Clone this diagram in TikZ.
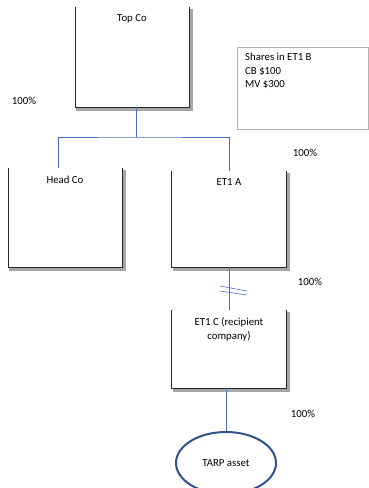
\documentclass[tikz,border=0pt]{standalone}
\usepackage{fontspec}
\setmainfont{Carlito}
\usetikzlibrary{shapes.geometric}
\definecolor{connblue}{RGB}{68,114,196}
\definecolor{ellblue}{RGB}{47,82,143}
\newcommand\cupdraw[2]{%
  \draw[line width=3pt, gray!70] ([shift={(2pt,-2pt)}]#1.north east) -- ([shift={(2pt,-2pt)}]#1.south east) -- ([shift={(1pt,-2pt)}]#1.south west);
  \draw[line width=#2, black!85] (#1.north west) -- (#1.south west) -- (#1.south east) -- (#1.north east);
}
\begin{document}
\begin{tikzpicture}[x=1pt,y=-1pt,
  every node/.style={font=\fontsize{10.8}{14}\selectfont},
  cupbox/.style={minimum width=114pt, minimum height=#1, inner sep=0pt},
  boxlabel/.style={anchor=north, yshift=-4.5pt, align=center},
  conn/.style={draw=connblue, line width=0.8pt},
  pct/.style={inner sep=0pt}]
\useasboundingbox (0,0) rectangle (369,488);
% boxes
\node[cupbox=100pt, label={[boxlabel]north:Top Co}] (topco) at (132,57) {};
\node[cupbox=99pt, label={[boxlabel]north:Head Co}] (head) at (65,217.5) {};
\node[cupbox=96pt, label={[boxlabel]north:ET1 A}] (et1a) at (229,219) {};
\node[cupbox=78pt, label={[boxlabel]north:ET1 C (recipient\\company)}] (et1c) at (229,349) {};
\cupdraw{topco}{0.6pt}
\cupdraw{head}{0.6pt}
\cupdraw{et1a}{0.9pt}
\cupdraw{et1c}{0.9pt}
% shares box
\node[draw=gray!60, line width=0.5pt, minimum width=131pt, minimum height=82pt] (shares) at (302.5,88) {};
\node[anchor=north west, align=left, inner sep=0pt, font=\fontsize{10.8}{13.5}\selectfont] (sharestext) at (245,53) {Shares in ET1 B\\CB \$100\\MV \$300};
% ellipse
\node[draw=ellblue, line width=2pt, ellipse, minimum width=100pt, minimum height=62pt, inner sep=0pt] (tarp) at (226,463) {};
\node (tarptext) at (226,463) {TARP asset};
% percentages
\node[pct] (p1) at (24,101) {100\%};
\node[pct] (p2) at (305,153) {100\%};
\node[pct] (p3) at (310,282) {100\%};
\node[pct] (p4) at (303,414) {100\%};
% connectors
\coordinate (jn) at (136,137);
\coordinate (hl) at (58,137);
\draw[conn] ([xshift=4pt]topco.south) -- (jn);
\draw[conn] (hl |- head.north) -- (hl) -- (jn) -| (et1a.north);
\draw[conn] (et1a.south) -- (et1c.north);
\draw[conn, line width=0.6pt] (220,286) -- (247,291);
\draw[conn, line width=0.6pt] (220,291) -- (247,295);
\draw[conn] (et1c.south -| tarp.north) -- (tarp.north);
\end{tikzpicture}
\end{document}
